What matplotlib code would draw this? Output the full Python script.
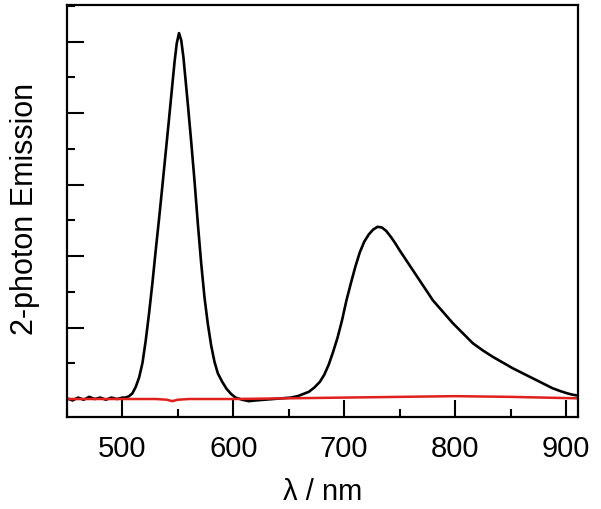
import matplotlib
matplotlib.use("Agg")
import matplotlib.pyplot as plt
from matplotlib.ticker import MultipleLocator

plt.rcParams["font.family"] = ["Liberation Sans", "DejaVu Sans"]

# emission with dye (black)
wl_dye = [450, 455, 460, 465, 470, 475, 480, 485, 490, 495, 500, 503, 506, 509, 512, 515,
          518, 521, 524, 527, 530, 533, 536, 539, 542, 545, 547, 549, 551, 553, 555,
          557, 559, 562, 565, 568, 571, 574, 577, 580, 583, 586, 590, 594, 598, 602,
          608, 614, 620, 628, 636, 644, 652, 658, 663, 668, 673, 678, 682, 686, 690,
          694, 698, 702, 706, 710, 714, 718, 722, 726, 730, 734, 738, 742, 746, 750,
          756, 762, 768, 774, 780, 789, 798, 807, 816, 825, 834, 843, 852, 861, 870,
          879, 888, 895, 901, 906, 910]
em_dye = [0.01, -0.02, 0.02, -0.01, 0.03, 0.00, 0.02, -0.01, 0.02, 0.00, 0.02, 0.02, 0.04,
          0.08, 0.17, 0.30, 0.50, 0.82, 1.20, 1.62, 2.08, 2.52, 2.98, 3.45, 3.92, 4.40,
          4.72, 4.98, 5.12, 5.02, 4.78, 4.45, 4.12, 3.60, 3.05, 2.45, 1.90, 1.42, 1.05,
          0.75, 0.52, 0.36, 0.24, 0.14, 0.07, 0.02, -0.01, -0.03, -0.02, -0.01, 0.00,
          0.01, 0.02, 0.04, 0.07, 0.10, 0.16, 0.24, 0.34, 0.48, 0.66, 0.86, 1.10, 1.38,
          1.62, 1.85, 2.05, 2.20, 2.30, 2.37, 2.41, 2.40, 2.35, 2.27, 2.18, 2.08, 1.94,
          1.80, 1.66, 1.52, 1.38, 1.22, 1.06, 0.92, 0.78, 0.68, 0.59, 0.51, 0.43, 0.36,
          0.29, 0.22, 0.15, 0.11, 0.08, 0.06, 0.05]

# control (red)
wl_ctrl = [450, 500, 530, 540, 545, 550, 560, 600, 650, 700, 750, 800, 850, 880, 910]
em_ctrl = [0.00, 0.00, 0.00, -0.01, -0.03, -0.01, 0.00, 0.00, 0.01, 0.02, 0.03, 0.04, 0.03,
           0.02, 0.01]

x_ticks = [500, 600, 700, 800, 900]

fig = plt.figure(figsize=(6.01, 5.09), dpi=100)
ax = fig.add_axes([0.1115, 0.1807, 0.850, 0.809])

ax.plot(wl_dye, em_dye, color="black", lw=1.9)
ax.plot(wl_ctrl, em_ctrl, color="#e0201c", lw=1.8)

ax.set_xlim(450, 910.7)
ax.set_ylim(-0.252, 5.51)
ax.set_xticks(x_ticks)
ax.xaxis.set_minor_locator(MultipleLocator(50))
ax.yaxis.set_major_locator(MultipleLocator(1))
ax.yaxis.set_minor_locator(MultipleLocator(0.5))
ax.set_yticklabels([])
ax.tick_params(which="major", direction="in", length=12, width=1.5, labelsize=21, pad=13)
ax.tick_params(which="minor", direction="in", length=6, width=1.5)
ax.tick_params(axis="both", which="both", top=False, right=False)
for s in ax.spines.values():
  s.set_linewidth(1.6)

ax.set_xlabel("λ / nm", fontsize=21, labelpad=11)
fig.text(25 / 601, 1 - 209 / 509, "2-photon Emission", fontsize=22,
         rotation=90, ha="center", va="center")

fig.savefig("out.png", dpi=100)
